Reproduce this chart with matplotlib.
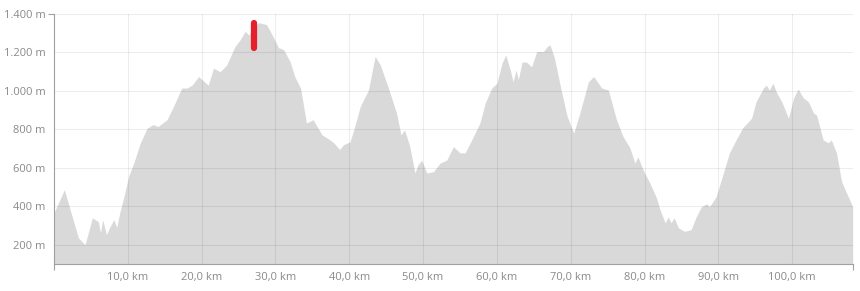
import matplotlib
matplotlib.use("Agg")
import matplotlib.pyplot as plt
from matplotlib.ticker import FuncFormatter
from matplotlib.lines import TICKDOWN, TICKLEFT

# elevation profile (km, m)
distance_km = [
    0.0, 1.4, 3.3, 4.2, 5.2, 6.0, 6.3, 6.6, 7.1, 7.6, 8.1, 8.5, 8.9, 9.6,
    10.1, 10.8, 11.7, 12.6, 13.4, 14.1, 15.3, 16.2, 17.3, 18.0, 18.7, 19.6,
    20.0, 20.9, 21.6, 22.5, 23.4, 24.5, 25.2, 25.9, 26.4, 26.8, 27.7, 28.8,
    29.7, 30.4, 31.1, 32.0, 32.6, 33.4, 34.2, 35.1, 36.3, 37.4, 37.9, 38.7,
    39.2, 40.1, 40.6, 41.5, 42.6, 43.5, 44.2, 45.3, 46.4, 47.0, 47.5, 48.2,
    48.9, 49.3, 49.8, 50.5, 51.4, 52.3, 53.2, 54.1, 55.0, 55.7, 56.8, 57.7,
    58.4, 59.3, 60.0, 60.7, 61.2, 61.8, 62.2, 62.6, 62.9, 63.4, 64.0, 64.7,
    65.4, 66.3, 66.8, 67.2, 67.8, 68.7, 69.5, 70.4, 71.2, 72.4, 73.1, 74.2,
    75.1, 76.2, 77.1, 78.0, 78.7, 79.1, 79.8, 80.7, 81.6, 82.1, 82.8, 83.2,
    83.6, 84.0, 84.6, 85.4, 86.3, 87.0, 87.7, 88.4, 88.8, 89.7, 90.6, 91.5,
    92.4, 93.3, 94.5, 95.1, 96.1, 96.5, 96.9, 97.4, 97.9, 98.6, 99.5, 100.2,
    100.8, 101.5, 102.2, 102.9, 103.3, 104.2, 104.9, 105.3, 106.0, 106.7,
    107.3, 108.2,
]
elevation_m = [
    366, 486, 236, 200, 340, 320, 262, 330, 252, 295, 330, 290, 365, 470,
    555, 625, 730, 805, 825, 815, 850, 920, 1015, 1015, 1030, 1075,
    1060, 1030, 1118, 1100, 1135, 1230, 1265, 1310, 1290, 1320, 1355, 1345,
    1280, 1225, 1215, 1150, 1075, 1015, 833, 850, 772, 745, 730, 695,
    720, 735, 797, 920, 1005, 1180, 1135, 1015, 885, 772, 797, 710,
    573, 615, 640, 573, 580, 625, 640, 710, 678, 678, 762, 833,
    935, 1015, 1040, 1145, 1187, 1109, 1047, 1109, 1057, 1150, 1150, 1125,
    1205, 1205, 1230, 1240, 1170, 1005, 870, 780, 880, 1047, 1075, 1015,
    1005, 850, 762, 705, 625, 657, 590, 522, 445, 382, 314, 345,
    314, 340, 288, 270, 278, 345, 398, 413, 398, 450, 563, 678,
    745, 808, 858, 943, 1015, 1030, 1005, 1040, 990, 943, 858, 964,
    1010, 964, 943, 885, 875, 745, 730, 745, 678, 528,
    475, 398,
]

marker_km = 27.15
marker_range = [1222, 1355]

y_ticks = [200, 400, 600, 800, 1000, 1200, 1400]
x_ticks = [10, 20, 30, 40, 50, 60, 70, 80, 90, 100]

plt.rcParams['font.family'] = ['Open Sans', 'DejaVu Sans']

fig = plt.figure(figsize=(8.6, 2.91), dpi=100)
ax = fig.add_axes([0.0628, 0.0928, 0.9287, 0.8591])

ax.fill_between(distance_km, elevation_m, 0, color='#d9d9d9', lw=0, zorder=1)
ax.plot([marker_km, marker_km], marker_range, color='#e3202b', lw=4.5,
        solid_capstyle='round', zorder=4)

ax.set_xlim(0, distance_km[-1])
ax.set_ylim(100, 1400)
ax.set_yticks(y_ticks)
ax.set_xticks(x_ticks)
ax.yaxis.set_major_formatter(FuncFormatter(lambda v, p: '{:,.0f} m'.format(v).replace(',', '.')))
ax.xaxis.set_major_formatter(FuncFormatter(lambda v, p: '{:.1f} km'.format(v).replace('.', ',')))

ax.grid(True, color='black', alpha=0.07, lw=0.8, zorder=3)
ax.set_axisbelow(False)

for s in ['top', 'right']:
    ax.spines[s].set_visible(False)
for s in ['left', 'bottom']:
    ax.spines[s].set_color('#a0a0a0')
    ax.spines[s].set_linewidth(0.8)
    ax.spines[s].set_zorder(5)

ax.tick_params(axis='y', length=0, pad=6, labelsize=8, labelcolor='#8a8a8a')
ax.tick_params(axis='x', length=0, pad=6, labelsize=8, labelcolor='#8a8a8a')
# small end ticks on the axes
ax.plot([0, distance_km[-1]], [100, 100], ls='none', marker=TICKDOWN, color='#a0a0a0',
        ms=4, mew=0.8, clip_on=False, zorder=5)
ax.plot([0], [1400], ls='none', marker=TICKLEFT, color='#a0a0a0',
        ms=4, mew=0.8, clip_on=False, zorder=5)

fig.savefig('out.png', dpi=100)
